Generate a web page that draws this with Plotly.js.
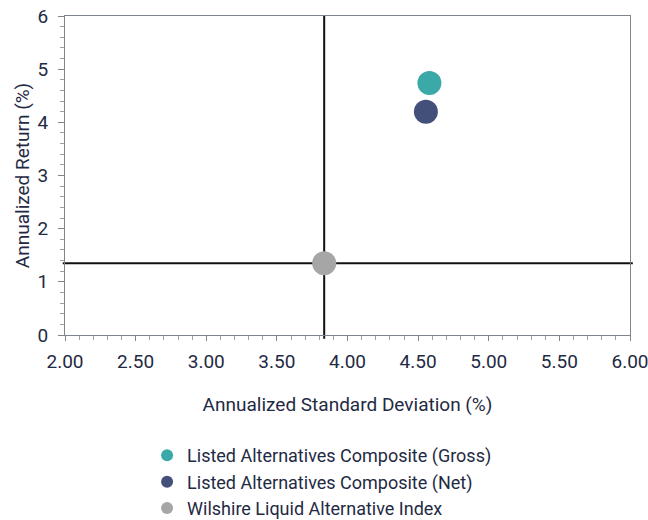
<!DOCTYPE html>
<html>
<head>
<meta charset="utf-8">
<script src="https://cdn.plot.ly/plotly-3.0.1.min.js"></script>
<style>html,body{margin:0;padding:0;background:#fff;}#chart{width:648px;height:520px;}</style>
</head>
<body>
<div id="chart"></div>
<script>
const seriesNames = ["Listed Alternatives Composite (Gross)", "Listed Alternatives Composite (Net)", "Wilshire Liquid Alternative Index"];
const stdDev = [4.58, 4.555, 3.835];
const annReturn = [4.74, 4.20, 1.35];
const colors = ["#3aa9a8", "#435079", "#a6a6a6"];
const xTickVals = [2.0, 2.5, 3.0, 3.5, 4.0, 4.5, 5.0, 5.5, 6.0];
const yTickVals = [0, 1, 2, 3, 4, 5, 6];

const textColor = "#1f2a44";
const font = "Roboto, 'Liberation Sans', sans-serif";

const traces = seriesNames.map((n, i) => ({
  type: "scatter", mode: "markers", name: n,
  x: [stdDev[i]], y: [annReturn[i]],
  marker: {color: colors[i], size: 24},
  hoverinfo: "none"
}));

// Crosshair through benchmark (Wilshire)
const bx = stdDev[2], by = annReturn[2];

const layout = {
  width: 648, height: 520,
  margin: {l: 65, r: 18, t: 16, b: 185, autoexpand: false},
  paper_bgcolor: "#fff", plot_bgcolor: "#fff",
  font: {family: font, size: 19, color: textColor},
  showlegend: true,
  legend: {x: 0.455, xanchor: "center", y: -0.32, yanchor: "top", orientation: "v",
           font: {size: 18, color: textColor}, itemsizing: "constant", itemwidth: 30,
           tracegroupgap: 0, bgcolor: "rgba(0,0,0,0)"},
  xaxis: {range: [2, 6], tickvals: xTickVals, ticktext: xTickVals.map(v => v.toFixed(2)),
          showgrid: false, zeroline: false, showline: true, linecolor: "#7f8491", linewidth: 1, mirror: true,
          ticks: "outside", ticklen: 5, tickcolor: "#7f8491", ticklabelstandoff: 4, ticklabeloverflow: "allow",
          minor: {dtick: 0.1, ticks: "outside", ticklen: 4, tickcolor: "#9a9ea8", showgrid: false},
          tickfont: {size: 19, color: textColor}, automargin: false,
          title: {text: "Annualized Standard Deviation (%)", font: {size: 19, color: textColor}, standoff: 25}},
  yaxis: {range: [0, 6], tickvals: yTickVals,
          showgrid: false, zeroline: false, showline: true, linecolor: "#7f8491", linewidth: 1, mirror: true,
          ticks: "outside", ticklen: 6, tickcolor: "#7f8491", ticklabelstandoff: 6, ticklabeloverflow: "allow",
          minor: {dtick: 0.2, ticks: "outside", ticklen: 4, tickcolor: "#9a9ea8", showgrid: false},
          tickfont: {size: 19, color: textColor}, automargin: false,
          title: {text: "Annualized Return (%)", font: {size: 19, color: textColor}, standoff: 2}},
  shapes: [
    {type: "line", xref: "x", yref: "paper", x0: bx, x1: bx, y0: -0.012, y1: 1, line: {color: "#111", width: 2}, layer: "below"},
    {type: "line", xref: "paper", yref: "y", x0: -0.004, x1: 1.005, y0: by, y1: by, line: {color: "#111", width: 2}, layer: "below"}
  ]
};

Plotly.newPlot("chart", traces, layout, {displayModeBar: false, staticPlot: true});
</script>
</body>
</html>
